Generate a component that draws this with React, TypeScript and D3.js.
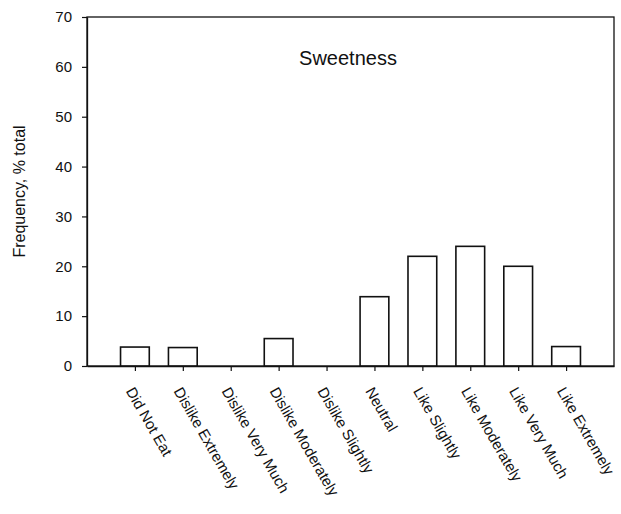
import React, { useEffect, useRef } from "react";
import { axisBottom, axisLeft, scaleLinear, scalePoint, select } from "d3";

// Data
const categories = [
  "Did Not Eat",
  "Dislike Extremely",
  "Dislike Very Much",
  "Dislike Moderately",
  "Dislike Slightly",
  "Neutral",
  "Like Slightly",
  "Like Moderately",
  "Like Very Much",
  "Like Extremely",
];
const frequency = [3.8, 3.7, 0, 5.5, 0, 13.9, 22, 24, 20, 3.9];
const yTicks = [0, 10, 20, 30, 40, 50, 60, 70];
const title = "Sweetness";
const yLabel = "Frequency, % total";

export default function App() {
  const ref = useRef<SVGSVGElement>(null);

  useEffect(() => {
    const width = 621;
    const height = 514;
    const margin = { top: 17, right: 7, bottom: 148, left: 87 };
    const font = "Arial, 'Liberation Sans', sans-serif";

    const svg = select(ref.current);
    svg.selectAll("*").remove();

    const x = scalePoint<string>()
      .domain(categories)
      .range([margin.left, width - margin.right])
      .padding(1);
    const y = scaleLinear()
      .domain([0, 70])
      .range([height - margin.bottom, margin.top]);

    const barW = x.step() * 0.6;

    // frame
    svg
      .append("rect")
      .attr("x", margin.left)
      .attr("y", margin.top)
      .attr("width", width - margin.right - margin.left)
      .attr("height", height - margin.bottom - margin.top)
      .attr("fill", "none")
      .attr("stroke", "#111")
      .attr("stroke-width", 1.3);

    // bars
    svg
      .selectAll("rect.bar")
      .data(categories.map((c, i) => ({ c, v: frequency[i] })).filter((d) => d.v > 0))
      .join("rect")
      .attr("class", "bar")
      .attr("x", (d) => (x(d.c) as number) - barW / 2)
      .attr("y", (d) => y(d.v))
      .attr("width", barW)
      .attr("height", (d) => y(0) - y(d.v))
      .attr("fill", "#fff")
      .attr("stroke", "#111")
      .attr("stroke-width", 1.6);

    // y axis
    const gy = svg
      .append("g")
      .attr("transform", `translate(${margin.left},0)`)
      .call(axisLeft(y).tickValues(yTicks).tickSize(5).tickSizeOuter(0).tickPadding(10));
    gy.select(".domain").attr("stroke", "#111").attr("stroke-width", 1.3);
    gy.selectAll(".tick line").attr("stroke", "#111").attr("stroke-width", 1.2);
    gy.selectAll(".tick text")
      .attr("font-family", font)
      .attr("font-size", 15)
      .attr("fill", "#111");

    // x axis
    const gx = svg
      .append("g")
      .attr("transform", `translate(0,${y(0)})`)
      .call(axisBottom(x).tickSize(5).tickSizeOuter(0));
    gx.select(".domain").attr("stroke", "#111").attr("stroke-width", 1.3);
    gx.selectAll(".tick line").attr("stroke", "#111").attr("stroke-width", 1.2);
    gx.selectAll(".tick text")
      .attr("font-family", font)
      .attr("font-size", 15)
      .attr("fill", "#111")
      .attr("text-anchor", "start")
      .attr("y", 0)
      .attr("dy", 0)
      .attr("transform", "translate(-10,25) rotate(60)");

    // title
    svg
      .append("text")
      .attr("x", 348)
      .attr("y", 65)
      .attr("text-anchor", "middle")
      .attr("font-family", font)
      .attr("font-size", 20)
      .attr("fill", "#111")
      .text(title);

    // y label
    svg
      .append("text")
      .attr("transform", `translate(25,${(margin.top + height - margin.bottom) / 2}) rotate(-90)`)
      .attr("text-anchor", "middle")
      .attr("font-family", font)
      .attr("font-size", 16)
      .attr("fill", "#111")
      .text(yLabel);
  }, []);

  return (
    <div style={{ position: "absolute", left: 0, top: 0, background: "#fff" }}>
      <svg ref={ref} width={621} height={514} style={{ display: "block" }}></svg>
    </div>
  );
}
